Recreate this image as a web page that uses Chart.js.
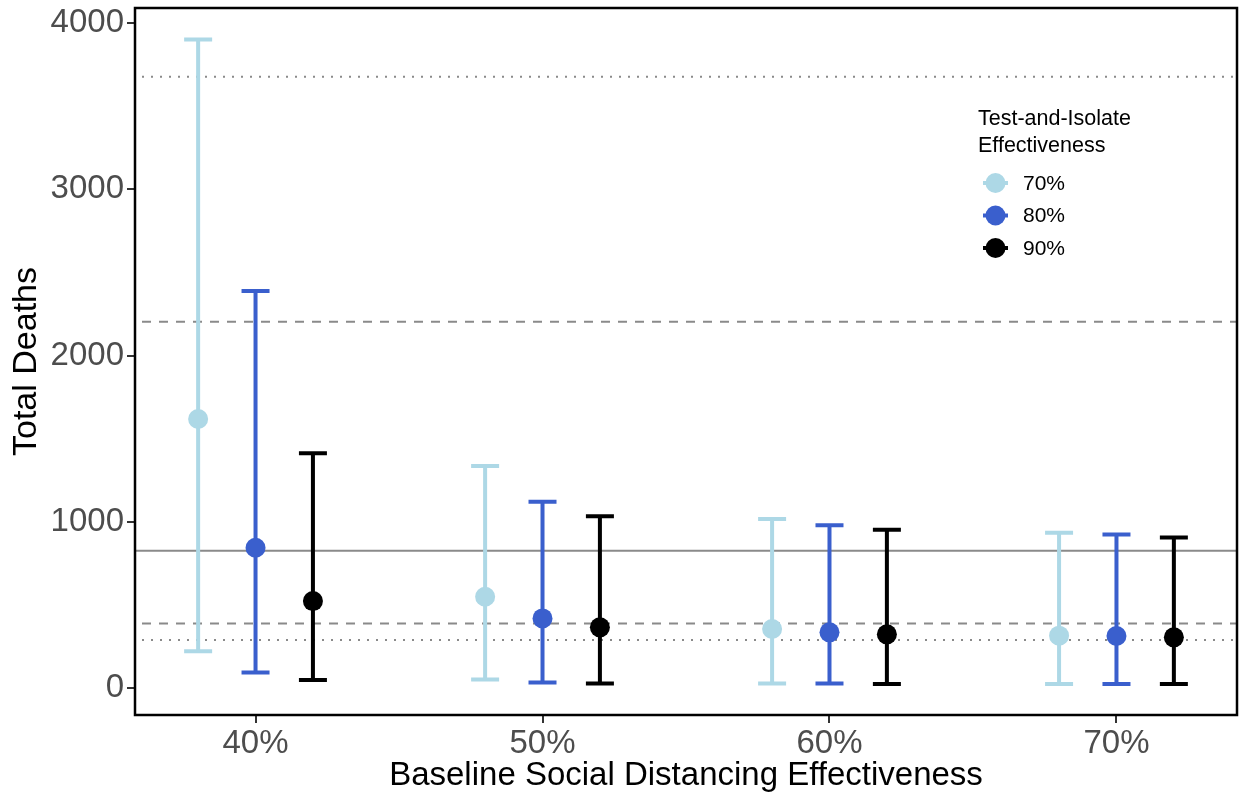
<!DOCTYPE html>
<html><head><meta charset="utf-8">
<script src="https://cdn.jsdelivr.net/npm/chart.js@4.4.1/dist/chart.umd.min.js"></script>
<style>html,body{margin:0;padding:0;background:#fff;}#wrap{width:1239px;height:796px;position:relative;}</style>
</head><body><div id="wrap"><canvas id="c" width="1239" height="796"></canvas></div>
<script>
const categories = ['40%', '50%', '60%', '70%'];
const groups = ['70%', '80%', '90%'];
const groupOffsets = [-0.2, 0, 0.2];
const groupColors = ['#ADD8E6', '#3A5FCD', '#000000'];
const mean70 = [1618, 549, 355, 315];
const lo70 = [222, 52, 28, 24];
const hi70 = [3901, 1335, 1017, 934];
const mean80 = [844, 419, 335, 313];
const lo80 = [94, 34, 28, 24];
const hi80 = [2388, 1121, 979, 924];
const mean90 = [523, 365, 323, 305];
const lo90 = [48, 28, 24, 24];
const hi90 = [1412, 1033, 952, 906];
const yTicks = [0, 1000, 2000, 3000, 4000];
const refValues = [3677, 2203, 826, 389, 289];
const refStyles = ['dotted', 'dashed', 'solid', 'dashed', 'dotted'];
const legendTitle = ['Test-and-Isolate', 'Effectiveness'];

const means = [mean70, mean80, mean90];
const los = [lo70, lo80, lo90];
const his = [hi70, hi80, hi90];

const datasets = groups.map((g, gi) => ({
  label: g,
  data: categories.map((c, ci) => ({x: ci + groupOffsets[gi], y: means[gi][ci]})),
  backgroundColor: groupColors[gi],
  borderColor: groupColors[gi],
  pointRadius: 10,
  pointHoverRadius: 10,
  borderWidth: 0,
  showLine: false
}));

const FONT = '"Liberation Sans", Arial, Helvetica, sans-serif';

const decor = {
  id: 'decor',
  beforeDatasetsDraw(chart) {
    const {ctx, chartArea: a, scales: {x, y}} = chart;
    ctx.save();
    ctx.beginPath(); ctx.rect(a.left, a.top, a.right - a.left, a.bottom - a.top); ctx.clip();
    refValues.forEach((v, i) => {
      const py = y.getPixelForValue(v);
      ctx.beginPath();
      ctx.strokeStyle = '#8a8a8a';
      ctx.lineWidth = 2;
      const st = refStyles[i];
      ctx.setLineDash(st === 'dotted' ? [2, 7] : st === 'dashed' ? [9, 8] : []);
      ctx.moveTo(a.left + 7, py); ctx.lineTo(a.right, py);
      if (st === 'solid') { ctx.moveTo(a.left, py); ctx.lineTo(a.right, py); }
      ctx.stroke();
    });
    ctx.setLineDash([]);
    groups.forEach((g, gi) => {
      ctx.strokeStyle = groupColors[gi];
      ctx.lineWidth = 4;
      categories.forEach((c, ci) => {
        const px = x.getPixelForValue(ci + groupOffsets[gi]);
        const pl = y.getPixelForValue(los[gi][ci]);
        const ph = y.getPixelForValue(his[gi][ci]);
        ctx.beginPath();
        ctx.moveTo(px, pl); ctx.lineTo(px, ph);
        ctx.moveTo(px - 14, pl); ctx.lineTo(px + 14, pl);
        ctx.moveTo(px - 14, ph); ctx.lineTo(px + 14, ph);
        ctx.stroke();
      });
    });
    ctx.restore();
  },
  afterDraw(chart) {
    const {ctx, chartArea: a} = chart;
    ctx.save();
    ctx.strokeStyle = '#000';
    ctx.lineWidth = 2.5;
    ctx.strokeRect(a.left, a.top, a.right - a.left, a.bottom - a.top);
    ctx.fillStyle = '#000';
    ctx.font = '21.5px ' + FONT;
    ctx.textBaseline = 'alphabetic';
    ctx.textAlign = 'left';
    ctx.fillText(legendTitle[0], 978, 125);
    ctx.fillText(legendTitle[1], 978, 152);
    ctx.font = '21px ' + FONT;
    ctx.textBaseline = 'middle';
    groups.forEach((g, gi) => {
      const cy = 183 + gi * 32.5;
      ctx.strokeStyle = groupColors[gi];
      ctx.fillStyle = groupColors[gi];
      ctx.lineWidth = 4;
      ctx.beginPath(); ctx.moveTo(983, cy); ctx.lineTo(1008, cy); ctx.stroke();
      ctx.beginPath(); ctx.arc(995.5, cy, 10, 0, Math.PI * 2); ctx.fill();
      ctx.fillStyle = '#000';
      ctx.fillText(g, 1023, cy + 1);
    });
    ctx.restore();
  }
};

new Chart(document.getElementById('c'), {
  type: 'scatter',
  data: {datasets},
  options: {
    responsive: false,
    animation: false,
    devicePixelRatio: 1,
    layout: {autoPadding: false, padding: {top: 8, right: 2, left: 0, bottom: 0}},
    plugins: {legend: {display: false}, tooltip: {enabled: false}},
    scales: {
      x: {
        type: 'linear', min: -0.42, max: 3.42,
        afterBuildTicks(s) { s.ticks = categories.map((c, i) => ({value: i})); },
        afterFit(s) { s.height = 81; s.paddingLeft = 0; s.paddingRight = 0; },
        ticks: {
          callback: (v) => categories[v] !== undefined ? categories[v] : '',
          font: {size: 33, family: FONT}, color: '#4D4D4D', padding: 1, autoSkip: false, maxRotation: 0
        },
        grid: {drawOnChartArea: false, drawTicks: true, tickLength: 8, color: '#333', lineWidth: 2},
        border: {display: false},
        title: {display: true, text: 'Baseline Social Distancing Effectiveness', font: {size: 33, family: FONT}, color: '#000', padding: {top: 0, bottom: 0}}
      },
      y: {
        type: 'linear', min: -162, max: 4090,
        afterBuildTicks(s) { s.ticks = yTicks.map(v => ({value: v})); },
        afterFit(s) { s.width = 135; s.paddingTop = 0; s.paddingBottom = 0; },
        ticks: {font: {size: 33, family: FONT}, color: '#4D4D4D', padding: 3, callback: (v) => String(v)},
        grid: {drawOnChartArea: false, drawTicks: true, tickLength: 8, color: '#333', lineWidth: 2},
        border: {display: false},
        title: {display: true, text: 'Total Deaths', font: {size: 34, family: FONT}, color: '#000', padding: {top: 6, bottom: 0}}
      }
    }
  },
  plugins: [decor]
});
</script></body></html>
